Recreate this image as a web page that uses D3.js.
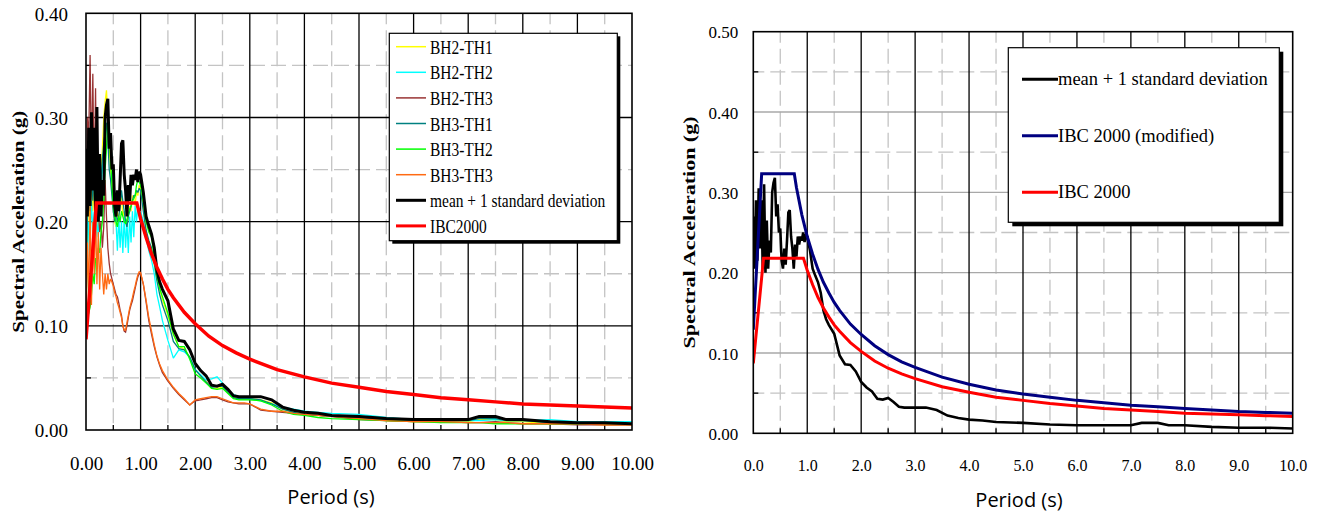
<!DOCTYPE html>
<html>
<head>
<meta charset="utf-8">
<script src="https://cdn.jsdelivr.net/npm/d3@7/dist/d3.min.js"></script>
<style>
  body { margin: 0; background: #fff; }
  svg { display: block; }
</style>
</head>
<body>
<svg id="fig" width="1317" height="519"></svg>
<script>
// Periods (s) at which the time-history spectra were sampled
const periods = [
  0.000, 0.025, 0.050, 0.075, 0.100, 0.125, 0.150, 0.175, 0.200, 0.225,
  0.250, 0.275, 0.300, 0.325, 0.350, 0.375, 0.400, 0.425, 0.450, 0.475,
  0.500, 0.525, 0.550, 0.575, 0.600, 0.625, 0.650, 0.675, 0.700, 0.725,
  0.750, 0.775, 0.800, 0.825, 0.850, 0.875, 0.900, 0.925, 0.950, 0.975,
  1.00, 1.05, 1.10, 1.15, 1.20, 1.25, 1.30, 1.35, 1.40, 1.50,
  1.60, 1.70, 1.80, 1.90, 2.00, 2.10, 2.20, 2.30, 2.40, 2.50,
  2.60, 2.70, 2.80, 2.90, 3.00, 3.20, 3.40, 3.60, 3.80, 4.00,
  4.25, 4.50, 5.00, 5.50, 6.00, 6.50, 7.00, 7.20, 7.50, 7.70,
  8.00, 8.50, 9.00, 9.50, 10.00
];

// Spectral acceleration (g) for each time history
const bh2th1 = [
  0.110, 0.180, 0.230, 0.200, 0.250, 0.210, 0.240, 0.200, 0.220, 0.190,
  0.230, 0.250, 0.270, 0.300, 0.315, 0.326, 0.300, 0.270, 0.250, 0.240,
  0.215, 0.200, 0.195, 0.210, 0.200, 0.215, 0.225, 0.205, 0.210, 0.200,
  0.195, 0.205, 0.215, 0.210, 0.225, 0.222, 0.215, 0.230, 0.225, 0.235,
  0.232, 0.215, 0.190, 0.180, 0.170, 0.160, 0.145, 0.135, 0.125, 0.110,
  0.092, 0.080, 0.078, 0.070, 0.058, 0.052, 0.047, 0.040, 0.040, 0.041,
  0.036, 0.031, 0.030, 0.030, 0.030, 0.029, 0.026, 0.020, 0.017, 0.015,
  0.014, 0.013, 0.011, 0.009, 0.008, 0.008, 0.008, 0.010, 0.010, 0.008,
  0.008, 0.006, 0.006, 0.005, 0.005
];
const bh2th2 = [
  0.120, 0.160, 0.200, 0.180, 0.220, 0.190, 0.210, 0.180, 0.200, 0.185,
  0.210, 0.230, 0.250, 0.270, 0.280, 0.290, 0.288, 0.285, 0.275, 0.262,
  0.240, 0.215, 0.200, 0.172, 0.205, 0.175, 0.200, 0.170, 0.205, 0.175,
  0.200, 0.170, 0.205, 0.180, 0.210, 0.185, 0.215, 0.200, 0.215, 0.205,
  0.210, 0.200, 0.185, 0.172, 0.163, 0.150, 0.130, 0.118, 0.105, 0.086,
  0.069, 0.077, 0.075, 0.070, 0.058, 0.053, 0.048, 0.049, 0.051, 0.045,
  0.038, 0.034, 0.032, 0.031, 0.030, 0.028, 0.025, 0.022, 0.020, 0.018,
  0.017, 0.016, 0.015, 0.012, 0.010, 0.009, 0.009, 0.009, 0.010, 0.009,
  0.009, 0.010, 0.008, 0.008, 0.008
];
const bh2th3 = [
  0.150, 0.300, 0.280, 0.360, 0.250, 0.342, 0.230, 0.328, 0.200, 0.215,
  0.190, 0.200, 0.175, 0.195, 0.240, 0.205, 0.175, 0.160, 0.150, 0.145,
  0.140, 0.135, 0.130, 0.128, 0.122, 0.115, 0.110, 0.100, 0.095, 0.094,
  0.100, 0.108, 0.115, 0.120, 0.124, 0.130, 0.136, 0.142, 0.147, 0.150,
  0.150, 0.140, 0.123, 0.105, 0.092, 0.080, 0.070, 0.062, 0.055, 0.047,
  0.040, 0.034, 0.029, 0.024, 0.028, 0.029, 0.030, 0.031, 0.031, 0.029,
  0.027, 0.026, 0.025, 0.025, 0.025, 0.019, 0.018, 0.017, 0.016, 0.015,
  0.014, 0.013, 0.010, 0.009, 0.008, 0.008, 0.007, 0.007, 0.008, 0.007,
  0.006, 0.006, 0.005, 0.005, 0.005
];
const bh3th1 = [
  0.130, 0.200, 0.240, 0.210, 0.260, 0.220, 0.250, 0.210, 0.230, 0.200,
  0.220, 0.240, 0.260, 0.275, 0.285, 0.295, 0.280, 0.250, 0.240, 0.225,
  0.210, 0.200, 0.210, 0.200, 0.205, 0.215, 0.230, 0.220, 0.210, 0.200,
  0.195, 0.205, 0.210, 0.215, 0.220, 0.225, 0.225, 0.230, 0.228, 0.232,
  0.230, 0.210, 0.192, 0.182, 0.175, 0.160, 0.143, 0.130, 0.120, 0.105,
  0.085, 0.078, 0.077, 0.070, 0.058, 0.052, 0.046, 0.041, 0.042, 0.042,
  0.036, 0.031, 0.030, 0.030, 0.030, 0.029, 0.025, 0.020, 0.017, 0.015,
  0.014, 0.013, 0.012, 0.010, 0.009, 0.009, 0.009, 0.011, 0.011, 0.009,
  0.009, 0.007, 0.006, 0.006, 0.006
];
const bh3th2 = [
  0.104, 0.108, 0.112, 0.118, 0.130, 0.150, 0.140, 0.165, 0.160, 0.175,
  0.170, 0.190, 0.200, 0.220, 0.250, 0.270, 0.300, 0.290, 0.260, 0.235,
  0.215, 0.205, 0.200, 0.195, 0.205, 0.200, 0.210, 0.205, 0.200, 0.198,
  0.202, 0.208, 0.212, 0.215, 0.220, 0.222, 0.225, 0.235, 0.240, 0.238,
  0.235, 0.220, 0.200, 0.190, 0.185, 0.165, 0.148, 0.136, 0.128, 0.112,
  0.092, 0.080, 0.080, 0.068, 0.054, 0.050, 0.045, 0.040, 0.039, 0.040,
  0.035, 0.030, 0.029, 0.029, 0.029, 0.028, 0.024, 0.018, 0.015, 0.014,
  0.012, 0.011, 0.010, 0.009, 0.008, 0.007, 0.007, 0.007, 0.006, 0.006,
  0.006, 0.006, 0.006, 0.006, 0.006
];
const bh3th3 = [
  0.100, 0.180, 0.130, 0.215, 0.120, 0.200, 0.150, 0.210, 0.140, 0.190,
  0.135, 0.175, 0.150, 0.130, 0.150, 0.135, 0.150, 0.140, 0.145, 0.142,
  0.138, 0.132, 0.128, 0.122, 0.118, 0.113, 0.108, 0.100, 0.096, 0.096,
  0.103, 0.110, 0.117, 0.122, 0.127, 0.133, 0.138, 0.144, 0.149, 0.152,
  0.151, 0.140, 0.125, 0.108, 0.095, 0.082, 0.071, 0.063, 0.057, 0.048,
  0.041, 0.035, 0.030, 0.024, 0.029, 0.030, 0.031, 0.032, 0.032, 0.030,
  0.028, 0.026, 0.026, 0.026, 0.025, 0.020, 0.018, 0.018, 0.016, 0.015,
  0.014, 0.013, 0.011, 0.009, 0.008, 0.008, 0.007, 0.007, 0.007, 0.007,
  0.006, 0.006, 0.006, 0.005, 0.005
];
const meanPlus1SD = [
  0.270, 0.205, 0.290, 0.215, 0.305, 0.230, 0.290, 0.205, 0.310, 0.200,
  0.265, 0.205, 0.240, 0.225, 0.300, 0.312, 0.318, 0.270, 0.285, 0.250,
  0.255, 0.215, 0.205, 0.230, 0.210, 0.240, 0.275, 0.278, 0.245, 0.230,
  0.205, 0.235, 0.220, 0.245, 0.235, 0.245, 0.240, 0.250, 0.238, 0.248,
  0.245, 0.228, 0.205, 0.196, 0.188, 0.175, 0.153, 0.142, 0.135, 0.124,
  0.097, 0.086, 0.085, 0.077, 0.064, 0.057, 0.052, 0.043, 0.042, 0.044,
  0.039, 0.033, 0.032, 0.032, 0.032, 0.032, 0.029, 0.022, 0.019, 0.017,
  0.016, 0.014, 0.013, 0.011, 0.010, 0.010, 0.010, 0.013, 0.013, 0.010,
  0.010, 0.008, 0.007, 0.007, 0.006
];

// IBC 2000 design spectrum
const ibcPeriods = [0.00, 0.19, 0.93, 1.00, 1.10, 1.20, 1.30, 1.40, 1.50, 1.60,
  1.80, 2.00, 2.25, 2.50, 2.75, 3.00, 3.50, 4.00, 4.50, 5.00,
  5.50, 6.00, 6.50, 7.00, 7.50, 8.00, 8.50, 9.00, 9.50, 10.00];
const ibc2000 = [0.087, 0.218, 0.218, 0.203, 0.185, 0.169, 0.156, 0.145, 0.135, 0.127,
  0.113, 0.102, 0.090, 0.081, 0.074, 0.068, 0.058, 0.051, 0.045, 0.041,
  0.037, 0.034, 0.031, 0.029, 0.027, 0.025, 0.024, 0.023, 0.022, 0.021];

// Modified IBC 2000 spectrum
const ibcModPeriods = [0.00, 0.155, 0.76, 0.80, 0.90, 1.00, 1.10, 1.20, 1.30, 1.40,
  1.50, 1.60, 1.80, 2.00, 2.25, 2.50, 2.75, 3.00, 3.50, 4.00,
  4.50, 5.00, 5.50, 6.00, 6.50, 7.00, 7.50, 8.00, 8.50, 9.00, 9.50, 10.00];
const ibcModified = [0.129, 0.323, 0.323, 0.306, 0.272, 0.245, 0.223, 0.204, 0.188, 0.175,
  0.163, 0.153, 0.136, 0.123, 0.109, 0.098, 0.089, 0.082, 0.070, 0.061,
  0.054, 0.049, 0.045, 0.041, 0.038, 0.035, 0.033, 0.031, 0.029, 0.027, 0.026, 0.025];

// Tick labels
const xTicksLeft = ["0.00", "1.00", "2.00", "3.00", "4.00", "5.00", "6.00", "7.00", "8.00", "9.00", "10.00"];
const yTicksLeft = ["0.00", "0.10", "0.20", "0.30", "0.40"];
const xTicksRight = ["0.0", "1.0", "2.0", "3.0", "4.0", "5.0", "6.0", "7.0", "8.0", "9.0", "10.0"];
const yTicksRight = ["0.00", "0.10", "0.20", "0.30", "0.40", "0.50"];

const SERIF = '"Liberation Serif", "Times New Roman", serif';
const SANS = '"Open Sans", Calibri, sans-serif';
const svg = d3.select('#fig');

function zip(xs, ys) { return xs.map((t, i) => [t, ys[i]]); }

function drawPanel(cfg) {
  const xTickVals = cfg.xTicks.map(Number);
  const yTickVals = cfg.yTicks.map(Number);
  const x = d3.scaleLinear().domain([0, xTickVals[xTickVals.length - 1]]).range([cfg.left, cfg.right]);
  const y = d3.scaleLinear().domain([0, yTickVals[yTickVals.length - 1]]).range([cfg.bottom, cfg.top]);
  const g = svg.append('g');

  const xMinor = xTickVals.slice(1).map((v, i) => (v + xTickVals[i]) / 2);
  const yMinor = yTickVals.slice(1).map((v, i) => (v + yTickVals[i]) / 2);

  // dashed grey minor grid
  g.selectAll('.vminor').data(xMinor).join('line')
    .attr('x1', d => x(d)).attr('x2', d => x(d))
    .attr('y1', cfg.top).attr('y2', cfg.bottom)
    .attr('stroke', '#c4c4c4').attr('stroke-width', 1.3)
    .attr('stroke-dasharray', '15,6').attr('stroke-dashoffset', 4);
  g.selectAll('.hminor').data(yMinor).join('line')
    .attr('x1', cfg.left).attr('x2', cfg.right)
    .attr('y1', d => y(d)).attr('y2', d => y(d))
    .attr('stroke', '#c4c4c4').attr('stroke-width', 1.3)
    .attr('stroke-dasharray', '15,6').attr('stroke-dashoffset', 4);

  // major grid
  g.selectAll('.hmajor').data(yTickVals.slice(1, -1)).join('line')
    .attr('x1', cfg.left).attr('x2', cfg.right)
    .attr('y1', d => y(d)).attr('y2', d => y(d))
    .attr('stroke', cfg.hMajorColor).attr('stroke-width', 1.3);
  g.selectAll('.vmajor').data(xTickVals.slice(1, -1)).join('line')
    .attr('x1', d => x(d)).attr('x2', d => x(d))
    .attr('y1', cfg.top).attr('y2', cfg.bottom)
    .attr('stroke', '#000').attr('stroke-width', 1.3);

  // inward minor ticks
  g.selectAll('.ytick').data(yMinor).join('line')
    .attr('x1', cfg.left).attr('x2', cfg.left + 5)
    .attr('y1', d => y(d)).attr('y2', d => y(d))
    .attr('stroke', '#000').attr('stroke-width', 1.3);
  g.selectAll('.xtick').data(xMinor).join('line')
    .attr('x1', d => x(d)).attr('x2', d => x(d))
    .attr('y1', cfg.bottom).attr('y2', cfg.bottom - 5)
    .attr('stroke', '#000').attr('stroke-width', 1.3);

  // data series
  const clipId = 'clip' + cfg.id;
  svg.append('clipPath').attr('id', clipId).append('rect')
    .attr('x', cfg.left).attr('y', cfg.top - 4)
    .attr('width', cfg.right - cfg.left + 2).attr('height', cfg.bottom - cfg.top + 4);
  const line = d3.line().x(d => x(d[0])).y(d => y(d[1]));
  const sg = g.append('g').attr('clip-path', `url(#${clipId})`);
  cfg.series.forEach(s => {
    sg.append('path').datum(zip(s.t, s.v))
      .attr('d', line).attr('fill', 'none')
      .attr('stroke', s.color).attr('stroke-width', s.width)
      .attr('stroke-linejoin', 'miter').attr('stroke-miterlimit', 2);
  });

  // plot frame
  g.append('rect').attr('x', cfg.left).attr('y', cfg.top)
    .attr('width', cfg.right - cfg.left).attr('height', cfg.bottom - cfg.top)
    .attr('fill', 'none').attr('stroke', '#000').attr('stroke-width', 1.6);

  // axes labels
  const ax = g.append('g').attr('transform', `translate(0,${cfg.bottom})`)
    .call(d3.axisBottom(x).tickValues(xTickVals).tickFormat((d, i) => cfg.xTicks[i]).tickSize(0));
  ax.select('.domain').remove();
  ax.selectAll('text').attr('dy', null).attr('y', cfg.xLabelY)
    .attr('font-family', SERIF).attr('font-size', cfg.xTickFont).attr('fill', '#000');

  const ay = g.append('g').attr('transform', `translate(${cfg.left},0)`)
    .call(d3.axisLeft(y).tickValues(yTickVals).tickFormat((d, i) => cfg.yTicks[i]).tickSize(0).tickPadding(cfg.yPad));
  ay.select('.domain').remove();
  ay.selectAll('text').attr('dy', '0.36em')
    .attr('font-family', SERIF).attr('font-size', cfg.yTickFont).attr('fill', '#000');

  // axis titles
  const yc = (cfg.top + cfg.bottom) / 2;
  g.append('text').attr('transform', `translate(${cfg.yTitleX},${yc}) rotate(-90)`)
    .attr('text-anchor', 'middle').attr('font-family', SERIF).attr('font-weight', 'bold')
    .attr('font-size', 17).attr('textLength', cfg.yTitleLen).attr('lengthAdjust', 'spacingAndGlyphs')
    .text('Spectral Acceleration (g)');
  g.append('text').attr('x', cfg.xTitleX).attr('y', cfg.xTitleY)
    .attr('text-anchor', 'middle').attr('font-family', SANS).attr('font-size', 20)
    .text('Period (s)');

  // legend
  const L = cfg.legend;
  const lg = g.append('g');
  lg.append('rect').attr('x', L.x + L.shadow).attr('y', L.y + L.shadow)
    .attr('width', L.w).attr('height', L.h).attr('fill', '#000');
  lg.append('rect').attr('x', L.x).attr('y', L.y).attr('width', L.w).attr('height', L.h)
    .attr('fill', '#fff').attr('stroke', '#000').attr('stroke-width', 1.2);
  L.items.forEach((it, i) => {
    const yy = L.firstY + i * L.step;
    lg.append('line').attr('x1', L.lineX0).attr('x2', L.lineX1)
      .attr('y1', yy).attr('y2', yy)
      .attr('stroke', it.color).attr('stroke-width', it.width);
    lg.append('text')
      .attr('transform', `translate(${L.textX},${yy + L.baseOff}) scale(${L.sx},1)`)
      .attr('font-family', SERIF).attr('font-size', L.font).attr('fill', '#000')
      .text(it.label);
  });
}

// left panel: individual time histories with mean + 1 SD and IBC 2000
drawPanel({
  id: 'L', left: 86, right: 632, top: 13.3, bottom: 430,
  xTicks: xTicksLeft, yTicks: yTicksLeft, hMajorColor: '#000',
  xLabelY: 40, xTickFont: 19, yTickFont: 19, yPad: 18,
  yTitleX: 24, yTitleLen: 222, xTitleX: 331, xTitleY: 504,
  series: [
    { t: periods, v: bh2th1, color: '#ffff00', width: 1.3 },
    { t: periods, v: bh2th2, color: '#00ffff', width: 1.3 },
    { t: periods, v: bh2th3, color: '#993333', width: 1.3 },
    { t: periods, v: bh3th1, color: '#008080', width: 1.3 },
    { t: periods, v: bh3th2, color: '#00ff00', width: 1.3 },
    { t: periods, v: bh3th3, color: '#ff6a13', width: 1.3 },
    { t: periods, v: meanPlus1SD, color: '#000', width: 3 },
    { t: ibcPeriods, v: ibc2000, color: '#ff0000', width: 3.5 }
  ],
  legend: {
    x: 389.3, y: 33.3, w: 228, h: 207.4, shadow: 3,
    lineX0: 396, lineX1: 426, textX: 430, firstY: 46.7, step: 25.6, baseOff: 7,
    font: 18, sx: 0.86,
    items: [
      { label: 'BH2-TH1', color: '#ffff00', width: 1.5 },
      { label: 'BH2-TH2', color: '#00ffff', width: 1.5 },
      { label: 'BH2-TH3', color: '#993333', width: 1.5 },
      { label: 'BH3-TH1', color: '#008080', width: 1.5 },
      { label: 'BH3-TH2', color: '#00ff00', width: 1.5 },
      { label: 'BH3-TH3', color: '#ff6a13', width: 1.5 },
      { label: 'mean + 1 standard deviation', color: '#000', width: 3 },
      { label: 'IBC2000', color: '#ff0000', width: 3 }
    ]
  }
});

// right panel: mean + 1 SD against IBC 2000 and its modified form
drawPanel({
  id: 'R', left: 753.3, right: 1292.7, top: 31.7, bottom: 433.3,
  xTicks: xTicksRight, yTicks: yTicksRight, hMajorColor: '#a8a8a8',
  xLabelY: 38, xTickFont: 16, yTickFont: 17, yPad: 15,
  yTitleX: 695, yTitleLen: 232, xTitleX: 1019, xTitleY: 507,
  series: [
    { t: periods, v: meanPlus1SD, color: '#000', width: 2.6 },
    { t: ibcModPeriods, v: ibcModified, color: '#000080', width: 3 },
    { t: ibcPeriods, v: ibc2000, color: '#ff0000', width: 3 }
  ],
  legend: {
    x: 1008.3, y: 47.7, w: 271, h: 174.6, shadow: 4,
    lineX0: 1022, lineX1: 1058, textX: 1058, firstY: 79.3, step: 56.5, baseOff: 6,
    font: 18.5, sx: 1,
    items: [
      { label: 'mean + 1 standard deviation', color: '#000', width: 3 },
      { label: 'IBC 2000 (modified)', color: '#000080', width: 3 },
      { label: 'IBC 2000', color: '#ff0000', width: 3 }
    ]
  }
});
</script>
</body>
</html>
